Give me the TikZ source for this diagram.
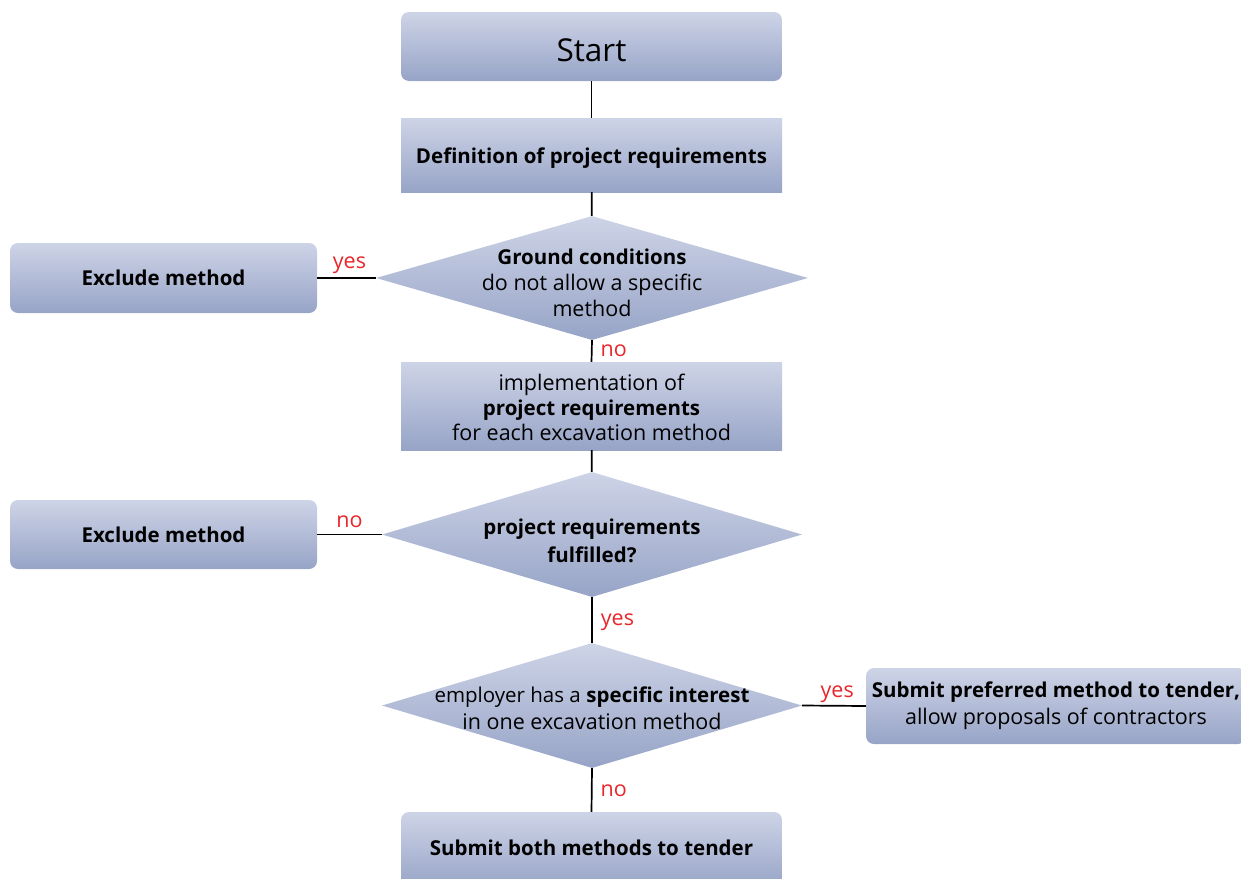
\documentclass[tikz,border=0pt]{standalone}
\usepackage{fontspec}
\setmainfont{Open Sans}
\usetikzlibrary{shapes.geometric}
\definecolor{boxtop}{HTML}{CED4E7}
\definecolor{boxbot}{HTML}{97A4C7}
\definecolor{lblred}{HTML}{E8262B}
\newcommand\bt[1]{{\fontsize{20.5}{26}\selectfont\bfseries #1}}
\tikzset{
  fbox/.style={inner sep=0pt, top color=boxtop, bottom color=boxbot, draw=none, align=center, font=\fontsize{21.5}{25}\selectfont},
  rbox/.style={fbox, rounded corners=8pt},
  dshape/.style={diamond, inner sep=0pt, top color=boxtop, bottom color=boxbot, draw=none},
  dtext/.style={align=center, inner sep=0pt, font=\fontsize{21.5}{26}\selectfont},
  conn/.style={line width=1.7pt, black},
  lbl/.style={text=lblred, inner sep=0pt, font=\fontsize{21.5}{24}\selectfont}
}
\begin{document}
\begin{tikzpicture}[x=1pt,y=1pt]
\useasboundingbox (0,0) rectangle (1241,-878);
% boxes
\node[rbox, minimum width=381pt, minimum height=69pt] (start) at (591.5,-46.5) {};
\node[font=\fontsize{31.5}{34}\selectfont, inner sep=0pt] (startt) at (591.5,-50) {Start};
\node[fbox, minimum width=381pt, minimum height=74pt] (def) at (591.5,-155) {};
\node[inner sep=0pt] (deft) at (591.5,-158) {\bt{Definition of project requirements}};
\node[dshape, minimum width=432pt, minimum height=124pt] (d1) at (592,-278) {};
\node[dtext] (d1t) at (592,-283) {\bt{Ground conditions}\\ do not allow a specific\\ method};
\node[rbox, minimum width=307pt, minimum height=70pt] (ex1) at (163.5,-278) {\bt{Exclude method}};
\node[fbox, minimum width=381pt, minimum height=88pt] (impl) at (591.5,-406) {};
\node[align=center, inner sep=0pt, font=\fontsize{21.5}{25}\selectfont] (implt) at (591.5,-407) {implementation of\\ \bt{project requirements}\\ for each excavation method};
\node[dshape, minimum width=420pt, minimum height=125pt] (d2) at (592,-534.5) {};
\node[dtext, font=\fontsize{21.5}{28}\selectfont] (d2t) at (592,-541) {\bt{project requirements}\\ \bt{fulfilled?}};
\node[rbox, minimum width=307pt, minimum height=69pt] (ex2) at (163.5,-534.5) {\bt{Exclude method}};
\node[dshape, minimum width=420pt, minimum height=125pt] (d3) at (592,-705.5) {};
\node[dtext, font=\fontsize{21.5}{27}\selectfont] (d3t) at (592,-708) {{\fontsize{20.5}{26}\selectfont employer has a} \bt{specific interest}\\ in one excavation method};
\node[rbox, minimum width=380pt, minimum height=76pt] (pref) at (1056,-706) {};
\node[align=center, inner sep=0pt, font=\fontsize{21.5}{27}\selectfont] (preft) at (1056,-706) {\bt{Submit preferred method to tender,}\\ allow proposals of contractors};
\node[rbox, minimum width=381pt, minimum height=76pt] (both) at (591.5,-850) {};
\node[inner sep=0pt] (botht) at (591.5,-848) {\bt{Submit both methods to tender}};
% connectors
\draw[conn] (start) -- (def);
\draw[conn] (def) -- (d1);
\draw[conn] (d1.west) -- (ex1.east) node[lbl, pos=0.45, above=3pt] (l1) {yes};
\draw[conn] (d1.south) -- (impl.north) node[lbl, midway, right=8pt] (l2) {no};
\draw[conn] (impl) -- (d2);
\draw[conn] (d2.west) -- (ex2.east) node[lbl, pos=0.5, above=6pt] (l3) {no};
\draw[conn] (d2.south) -- (d3.north) node[lbl, pos=0.55, right=8pt] (l4) {yes};
\draw[conn] (d3.east) -- (pref.west) node[lbl, pos=0.55, above=2pt] (l5) {yes};
\draw[conn] (d3.south) -- (both.north) node[lbl, pos=0.52, right=8pt] (l6) {no};
\end{tikzpicture}
\end{document}
